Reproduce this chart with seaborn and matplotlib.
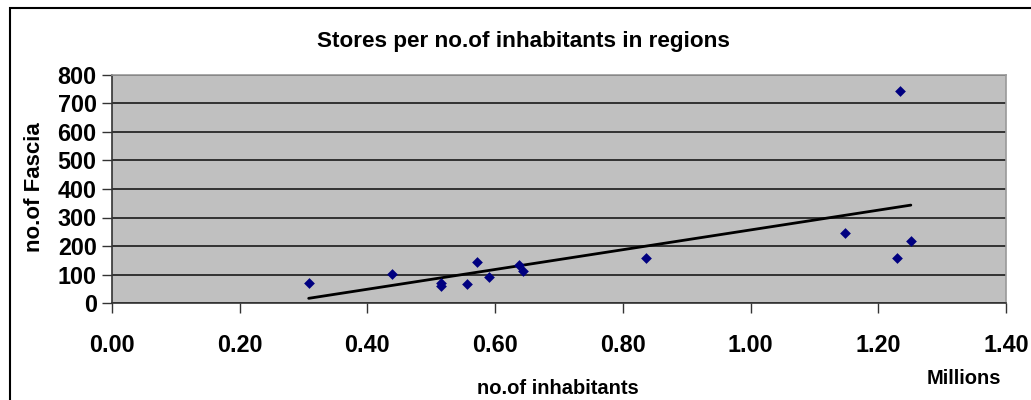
import matplotlib
matplotlib.use("Agg")
import matplotlib.pyplot as plt
import seaborn as sns
import pandas as pd
from matplotlib.patches import Rectangle

# Data (inhabitants in millions, number of fascia)
inhabitants = [0.308, 0.438, 0.515, 0.515, 0.556, 0.571, 0.591, 0.637,
               0.644, 0.837, 1.148, 1.230, 1.234, 1.251]
fascia = [70, 103, 69, 60, 65, 145, 90, 133, 111, 157, 246, 157, 745, 216]
x_ticks = [0.0, 0.2, 0.4, 0.6, 0.8, 1.0, 1.2, 1.4]
y_ticks = [0, 100, 200, 300, 400, 500, 600, 700, 800]

df = pd.DataFrame({"inhabitants": inhabitants, "fascia": fascia})

sns.set_style("white")
plt.rcParams['font.family'] = ['Liberation Sans', 'DejaVu Sans']
plt.rcParams['text.color'] = 'black'

fig = plt.figure(figsize=(10.31, 4.0), dpi=100)
W, H = 1031, 400
ax = fig.add_axes([112 / W, 1 - 303 / H, (1006 - 112) / W, (303 - 75) / H])
ax.set_facecolor("#C0C0C0")

sns.regplot(data=df, x="inhabitants", y="fascia", ax=ax, ci=None,
            marker="D",
            scatter_kws={"color": "#000080", "s": 30, "alpha": 1,
                         "linewidths": 0, "zorder": 3},
            line_kws={"color": "black", "lw": 2, "zorder": 2})

ax.set_xlim(0, 1.4)
ax.set_ylim(0, 800)
ax.set_xticks(x_ticks)
ax.set_yticks(y_ticks)
ax.set_xticklabels([f"{t:.2f}" for t in x_ticks], fontsize=16.8, fontweight="bold")
ax.set_yticklabels([str(t) for t in y_ticks], fontsize=16.8, fontweight="bold")
ax.tick_params(axis="both", direction="out", length=7, width=1, color="#333333",
               labelcolor="black", bottom=True, left=True)
ax.tick_params(axis="x", pad=15)
ax.tick_params(axis="y", pad=4)
ax.yaxis.grid(True, color="#1a1a1a", lw=1.2)
ax.set_axisbelow(True)
ax.set_xlabel("")
ax.set_ylabel("")
for side in ["top", "right"]:
    ax.spines[side].set_color("#999999")
    ax.spines[side].set_linewidth(1.2)
for side in ["left", "bottom"]:
    ax.spines[side].set_color("#333333")
    ax.spines[side].set_linewidth(1.2)

fig.text(523 / W, 1 - 42 / H, "Stores per no.of inhabitants in regions",
         ha="center", va="center", fontsize=16.2, fontweight="bold")
fig.text(558 / W, 1 - 388 / H, "no.of inhabitants",
         ha="center", va="center", fontsize=14.5, fontweight="bold")
fig.text(964 / W, 1 - 378 / H, "Millions",
         ha="center", va="center", fontsize=14.5, fontweight="bold")
fig.text(35 / W, 1 - 187 / H, "no.of Fascia", rotation=90,
         ha="center", va="center", fontsize=16, fontweight="bold")

# outer chart frame
fig.patches.append(Rectangle((10 / W, -0.05), 1.1, 1 - 8 / H + 0.05,
                             transform=fig.transFigure, fill=False,
                             edgecolor="black", lw=1.5))

fig.savefig("out.png", dpi=100)
